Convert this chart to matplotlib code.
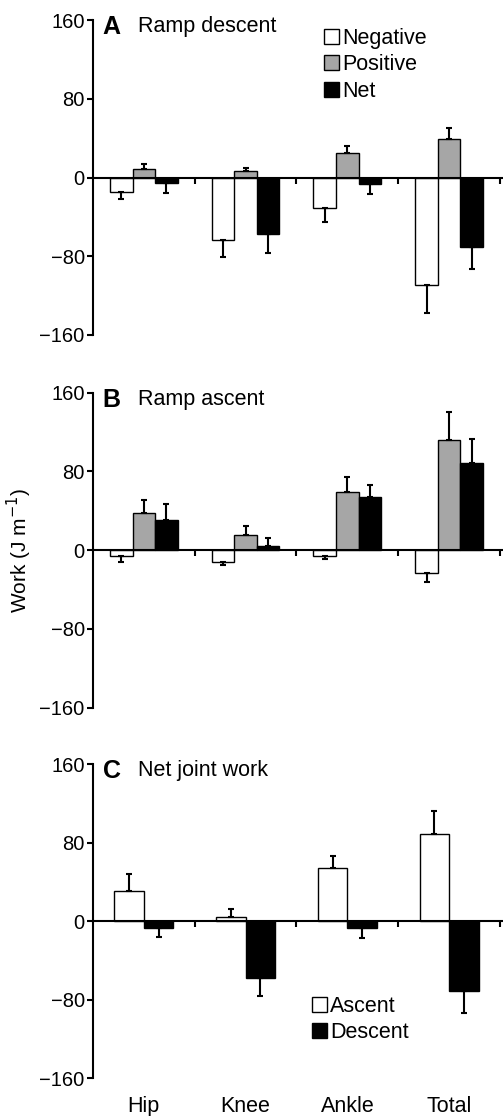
import numpy as np
import matplotlib
matplotlib.use('Agg')
import matplotlib.pyplot as plt
from matplotlib.patches import Patch
from matplotlib.transforms import blended_transform_factory

plt.rcParams['font.family'] = ['Liberation Sans', 'DejaVu Sans']

#=================================================================
joints = ['Hip', 'Knee', 'Ankle', 'Total']

# A: ramp descent
descent_neg = [-15, -63, -31, -109]
descent_neg_err = [7, 18, 14.5, 29]
descent_pos = [8.5, 6.5, 24.5, 39]
descent_pos_err = [5.5, 3, 7, 11]
descent_net = [-6, -57.5, -6.5, -70.5]
descent_net_err = [9.5, 19, 10, 22.5]

# B: ramp ascent
ascent_neg = [-6, -11.5, -5.5, -23]
ascent_neg_err = [5.5, 3.5, 3.5, 9]
ascent_pos = [37.5, 15.5, 59, 112]
ascent_pos_err = [14, 9, 15, 28]
ascent_net = [31, 4, 54, 89]
ascent_net_err = [16, 8, 12, 24]

# C: net joint work
net_ascent = [31, 4, 54, 89]
net_ascent_err = [16.5, 8, 12.5, 23.5]
net_descent = [-7, -58, -7, -71]
net_descent_err = [9, 18.5, 10, 23]

#=================================================================
W, H = 503, 1116
fig = plt.figure(figsize=(W/100., H/100.), dpi=100)

def add_ax(top, bottom):
  return fig.add_axes([93./W, 1-bottom/H, 409./W, (bottom-top)/H])

def style_ax(ax, letter, title):
  ax.set_ylim(-160, 160)
  ax.set_xlim(-0.5, 3.52)
  ax.set_yticks([-160, -80, 0, 80, 160])
  ax.set_yticklabels(['\u2212160', '\u221280', '0', '80', '160'])
  ax.spines['top'].set_visible(False)
  ax.spines['right'].set_visible(False)
  ax.spines['bottom'].set_position(('data', 0))
  ax.spines['left'].set_linewidth(1.5)
  ax.spines['bottom'].set_linewidth(1.5)
  ax.set_xticks([0.5, 1.5, 2.5, 3.5])
  ax.set_xticklabels([])
  ax.tick_params(axis='x', direction='out', length=4, width=1.5)
  ax.tick_params(axis='y', direction='out', length=4, width=1.5, labelsize=14.5, pad=2)
  ax.text(0.024, 0.978, letter, transform=ax.transAxes, fontsize=18, fontweight='bold',
          va='center', ha='left')
  ax.text(0.11, 0.978, title, transform=ax.transAxes, fontsize=15.5,
          va='center', ha='left')

def bars(ax, x, vals, errs, color, width):
  vals = np.array(vals, dtype=float)
  errs = np.array(errs, dtype=float)
  ax.bar(x, vals, width=width, color=color, edgecolor='black', linewidth=1.0, zorder=2)
  lo = np.where(vals < 0, errs, 0)
  hi = np.where(vals >= 0, errs, 0)
  ax.errorbar(x, vals, yerr=[lo, hi], fmt='none', ecolor='black', elinewidth=1.5,
              capsize=2.2, capthick=1.5, zorder=3)

x = np.arange(len(joints))
gray = '#a6a6a6'

#=================================================================
# A
axA = add_ax(20, 335)
bw = 0.222
bars(axA, x - bw, descent_neg, descent_neg_err, 'white', bw)
bars(axA, x, descent_pos, descent_pos_err, gray, bw)
bars(axA, x + bw, descent_net, descent_net_err, 'black', bw)
style_ax(axA, 'A', 'Ramp descent')
handles = [Patch(facecolor='white', edgecolor='black', label='Negative'),
           Patch(facecolor=gray, edgecolor='black', label='Positive'),
           Patch(facecolor='black', edgecolor='black', label='Net')]
axA.legend(handles=handles, loc='upper left', bbox_to_anchor=(0.565, 0.975), frameon=False,
           fontsize=15.5, handlelength=0.7, handleheight=0.7, handletextpad=0.15,
           labelspacing=0.25, borderaxespad=0, borderpad=0)

# B
axB = add_ax(392.7, 707.7)
bars(axB, x - bw, ascent_neg, ascent_neg_err, 'white', bw)
bars(axB, x, ascent_pos, ascent_pos_err, gray, bw)
bars(axB, x + bw, ascent_net, ascent_net_err, 'black', bw)
style_ax(axB, 'B', 'Ramp ascent')
axB.set_ylabel('Work (J m$^{\u22121}$)', fontsize=15, labelpad=4)

# C
axC = add_ax(764, 1078.3)
cw = 0.29
bars(axC, x - cw/2, net_ascent, net_ascent_err, 'white', cw)
bars(axC, x + cw/2, net_descent, net_descent_err, 'black', cw)
style_ax(axC, 'C', 'Net joint work')
handles = [Patch(facecolor='white', edgecolor='black', label='Ascent'),
           Patch(facecolor='black', edgecolor='black', label='Descent')]
axC.legend(handles=handles, loc='upper left', bbox_to_anchor=(0.535, 0.262), frameon=False,
           fontsize=15.5, handlelength=0.7, handleheight=0.7, handletextpad=0.15,
           labelspacing=0.25, borderaxespad=0, borderpad=0)
trans = blended_transform_factory(axC.transData, axC.transAxes)
for i, name in enumerate(joints):
  axC.text(x[i], -0.09, name, transform=trans, ha='center', va='center', fontsize=15.5)

fig.savefig('out.png', dpi=100)
